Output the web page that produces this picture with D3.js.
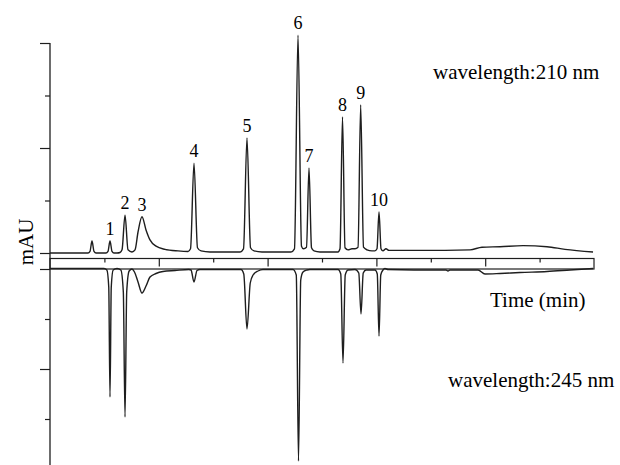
<!DOCTYPE html>
<html lang="en">
<head>
<meta charset="UTF-8">
<title>Chromatogram 210 / 245 nm</title>
<script src="https://cdn.jsdelivr.net/npm/d3@7"></script>
<style>
  body { margin: 0; background: #fff; }
  text { font-family: "Liberation Serif", "Times New Roman", serif; fill: #000; }
</style>
</head>
<body>
<svg id="chart" width="620" height="465"></svg>
<script>
// trace: [time, mAU]
var trace210 = [
  [0, 0], [0.643, 0], [0.699, 0], [0.735, 3], [0.772, 23], [0.809, 3], [0.846, 0],
  [0.993, 0], [1.029, 0], [1.066, 3], [1.103, 23], [1.140, 3], [1.176, 0],
  [1.232, 0], [1.287, 1], [1.324, 6], [1.379, 72], [1.434, 6], [1.507, 2],
  [1.563, 6], [1.618, 40], [1.691, 69], [1.765, 44], [1.838, 25], [1.949, 13], [2.114, 7], [2.353, 4], [2.537, 3],
  [2.583, 8], [2.647, 171], [2.711, 10], [2.776, 4], [2.941, 2],
  [3.493, 2], [3.557, 8], [3.621, 219], [3.686, 10], [3.750, 4], [3.897, 2],
  [4.430, 2], [4.494, 8], [4.559, 415], [4.623, 13], [4.660, 8], [4.715, 11], [4.761, 162], [4.807, 10], [4.853, 4], [4.963, 2],
  [5.257, 2], [5.294, 2], [5.331, 8], [5.377, 259], [5.423, 10], [5.478, 6], [5.551, 8],
  [5.607, 8], [5.662, 11], [5.711, 282], [5.763, 11], [5.827, 6], [5.919, 4],
  [5.974, 4], [6.011, 8], [6.048, 78], [6.085, 8], [6.121, 4], [6.176, 8], [6.232, 5],
  [6.801, 5], [7.721, 6], [7.941, 11], [8.272, 12], [8.695, 14], [9.136, 12], [9.467, 7], [9.982, 2]
];

var trace245 = [
  [0, 1], [0.993, 1], [1.045, -2], [1.080, -36], [1.103, -256], [1.126, -36], [1.161, -2], [1.232, 1],
  [1.302, -2], [1.348, -46], [1.379, -296], [1.410, -46], [1.455, -4], [1.507, 0],
  [1.553, -6], [1.618, -26], [1.691, -48], [1.765, -34], [1.838, -16], [1.949, -9], [2.077, -5], [2.298, -3], [2.555, -1],
  [2.592, -2], [2.647, -26], [2.702, -3], [2.757, -1],
  [3.511, -1], [3.562, -10], [3.621, -120], [3.681, -28], [3.732, -12], [3.824, -4], [3.915, -1],
  [4.467, -1], [4.527, -12], [4.568, -384], [4.609, -22], [4.651, -6], [4.724, -2], [4.779, -1],
  [5.294, -1], [5.345, -10], [5.386, -188], [5.427, -12], [5.478, -2],
  [5.607, -1], [5.676, -8], [5.717, -90], [5.758, -8], [5.809, -2],
  [5.974, -2], [6.016, -10], [6.048, -134], [6.080, -12], [6.121, -2], [6.158, 1], [6.213, -1],
  [7.169, -2], [7.279, -2], [7.316, -4], [7.353, -2], [7.868, -2], [7.996, -10],
  [8.272, -9], [8.640, -7], [9.136, -5], [9.559, -2], [9.982, 1]
];

// peak numbers and their apex (time, mAU at 210 nm)
var peakNames = ["1", "2", "3", "4", "5", "6", "7", "8", "9", "10"];
var peakTimes = [1.103, 1.379, 1.691, 2.647, 3.621, 4.559, 4.761, 5.377, 5.711, 6.048];
var peakHeights = [23, 72, 69, 171, 219, 415, 162, 259, 282, 78];

var timeTicks = [1, 2, 3, 4, 5, 6, 7, 8, 9];
var upperTicks = [0, 100, 200, 300, 400];
var lowerTicks = [0, -100, -200, -300, -400];

var ink = "#1e1e1e";
var svg = d3.select("#chart");

var x = d3.scaleLinear().domain([0, 10]).range([50, 594]);
var yTop = d3.scaleLinear().domain([0, 400]).range([253, 43]);
var yBot = d3.scaleLinear().domain([0, -400]).range([269, 469]);

// left axes, no labels, long/short ticks
function leftAxis(scale, values) {
  var g = svg.append("g").attr("transform", "translate(50,0)")
    .call(d3.axisLeft(scale).tickValues(values).tickSize(10).tickSizeOuter(0).tickFormat(""));
  g.select(".domain").remove();
  g.selectAll(".tick").filter(function(d) { return d % 200 !== 0; })
    .select("line").attr("x2", -5);
  g.selectAll("line").attr("stroke", ink).attr("stroke-width", 1.2);
  return g;
}
leftAxis(yTop, upperTicks);
leftAxis(yBot, lowerTicks);

svg.append("line")
  .attr("x1", 50).attr("x2", 50)
  .attr("y1", yTop(400)).attr("y2", 465)
  .attr("stroke", ink).attr("stroke-width", 1.3);

// time band between the two traces
var bandTop = 258.5;
svg.append("rect")
  .attr("x", x(0)).attr("y", bandTop)
  .attr("width", x(10) - x(0)).attr("height", yBot(0) - bandTop)
  .attr("fill", "none").attr("stroke", ink).attr("stroke-width", 1.2);

var xg = svg.append("g").attr("transform", "translate(0," + bandTop + ")")
  .call(d3.axisBottom(x).tickValues(timeTicks).tickSize(8).tickSizeOuter(0).tickFormat(""));
xg.select(".domain").remove();
xg.selectAll(".tick").filter(function(d) { return d % 2 !== 0; })
  .select("line").attr("y2", 4);
xg.selectAll("line").attr("stroke", ink).attr("stroke-width", 1.2);

// traces
var lineTop = d3.line().x(function(d) { return x(d[0]); }).y(function(d) { return yTop(d[1]); })
  .curve(d3.curveMonotoneX);
var lineBot = d3.line().x(function(d) { return x(d[0]); }).y(function(d) { return yBot(d[1]); })
  .curve(d3.curveMonotoneX);

svg.append("path").datum(trace210).attr("d", lineTop)
  .attr("fill", "none").attr("stroke", ink).attr("stroke-width", 1.4).attr("stroke-linejoin", "round");
svg.append("path").datum(trace245).attr("d", lineBot)
  .attr("fill", "none").attr("stroke", ink).attr("stroke-width", 1.4).attr("stroke-linejoin", "round");

// peak numbers
svg.selectAll("text.peak").data(peakNames).enter().append("text")
  .attr("class", "peak")
  .attr("x", function(d, i) { return x(peakTimes[i]); })
  .attr("y", function(d, i) { return yTop(peakHeights[i]) - 6; })
  .attr("text-anchor", "middle")
  .attr("font-size", 18)
  .text(function(d) { return d; });

// texts
svg.append("text").attr("x", 433).attr("y", 79).attr("font-size", 21).text("wavelength:210 nm");
svg.append("text").attr("x", 448).attr("y", 387).attr("font-size", 21).text("wavelength:245 nm");
svg.append("text").attr("x", 490).attr("y", 307).attr("font-size", 21).text("Time (min)");
svg.append("text")
  .attr("transform", "translate(33,242) rotate(-90)")
  .attr("text-anchor", "middle").attr("font-size", 21).text("mAU");
</script>
</body>
</html>
